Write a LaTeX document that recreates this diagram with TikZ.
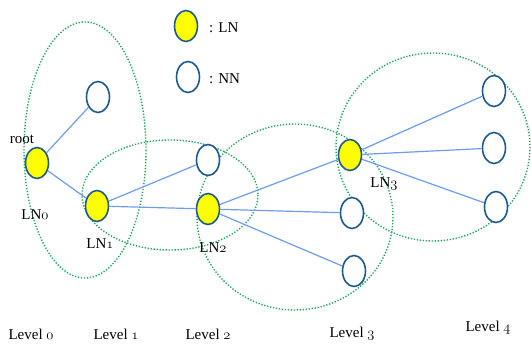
\documentclass[tikz,border=0pt]{standalone}
\usepackage{fontspec}
\setmainfont{Liberation Serif}
\usetikzlibrary{shapes.geometric}
\definecolor{nodeblue}{HTML}{1F5A8C}
\definecolor{linkblue}{HTML}{6E9BEA}
\definecolor{zonegreen}{HTML}{20A558}
\definecolor{lnyellow}{HTML}{FFFF00}
% old-style figures taken from the math italic font
\newcommand{\osf}[1]{{\usefont{OML}{cmm}{m}{it}#1}}
\tikzset{
  pt/.style={ellipse, draw=nodeblue, line width=1.6pt, minimum width=23pt, minimum height=31pt, inner sep=0pt},
  ln/.style={pt, fill=lnyellow},
  nn/.style={pt, fill=white},
  link/.style={draw=linkblue, line width=1.2pt},
  zone/.style={draw=zonegreen, line width=1.4pt, dash pattern=on 1.3pt off 1.7pt},
  lbl/.style={font=\fontsize{15}{17}\selectfont, inner sep=0pt}
}
\begin{document}
\begin{tikzpicture}[x=1pt, y=-1pt]
\useasboundingbox (0,0) rectangle (531,345);
% cluster zones
\draw[zone] (85,150) ellipse [x radius=61, y radius=128];
\draw[zone] (170,195) ellipse [x radius=88, y radius=55];
\draw[zone] (295,217) ellipse [x radius=98, y radius=93];
\draw[zone] (433,147) ellipse [x radius=97, y radius=94];
% legend
\node[ln] (keyln) at (186,26) {};
\node[lbl, anchor=west] (keylntxt) at (209,28) {: LN};
\node[nn] (keynn) at (188,77) {};
\node[lbl, anchor=west] (keynntxt) at (209,79) {: NN};
% nodes
\node[ln] (ln0) at (37,163) {};
\node[nn] (n1) at (98,97) {};
\node[ln] (ln1) at (97,206) {};
\node[nn] (n2) at (208,160) {};
\node[ln] (ln2) at (208,209) {};
\node[ln] (ln3) at (350,155) {};
\node[nn] (n3a) at (352,213) {};
\node[nn] (n3b) at (354,271) {};
\node[nn] (n4a) at (494,91) {};
\node[nn] (n4b) at (494,148) {};
\node[nn] (n4c) at (496,207) {};
% links
\draw[link] (ln0) -- (n1);
\draw[link] (ln0) -- (ln1);
\draw[link] (ln1) -- (n2);
\draw[link] (ln1) -- (ln2);
\draw[link] (ln2) -- (ln3);
\draw[link] (ln2) -- (n3a);
\draw[link] (ln2) -- (n3b);
\draw[link] (ln3) -- (n4a);
\draw[link] (ln3) -- (n4b);
\draw[link] (ln3) -- (n4c);
% node labels
\node[lbl] (root) at (22,139) {root};
\node[lbl] (t0) at (35,215) {LN\osf{0}};
\node[lbl] (t1) at (100,244) {LN\osf{1}};
\node[lbl] (t2) at (213,248) {LN\osf{2}};
\node[lbl] (t3) at (384,184) {LN\osf{3}};
% level captions
\node[lbl] (lv0) at (31,334) {Level \osf{0}};
\node[lbl] (lv1) at (116,334) {Level \osf{1}};
\node[lbl] (lv2) at (208,334) {Level \osf{2}};
\node[lbl] (lv3) at (352,334) {Level \osf{3}};
\node[lbl] (lv4) at (488,328) {Level \osf{4}};
\end{tikzpicture}
\end{document}
